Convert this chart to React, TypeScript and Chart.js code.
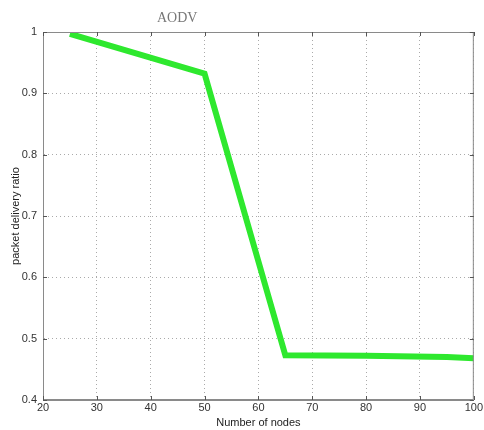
import React, { useEffect, useRef } from "react";
import { Chart, registerables } from "chart.js";

Chart.register(...registerables);

const nodes = [25, 50, 65, 80, 95, 100];
const pdr = [0.997, 0.932, 0.473, 0.472, 0.47, 0.468];
const xTicks = [20, 30, 40, 50, 60, 70, 80, 90, 100];
const yTicks = [0.4, 0.5, 0.6, 0.7, 0.8, 0.9, 1];

const boxPlugin = {
  id: "box",
  afterDraw(chart: any) {
    const { ctx, chartArea } = chart;
    ctx.save();
    ctx.strokeStyle = "#8a8a8a";
    ctx.lineWidth = 1;
    ctx.strokeRect(chartArea.left + 0.5, chartArea.top + 0.5, chartArea.right - chartArea.left - 1, chartArea.bottom - chartArea.top - 1);
    ctx.strokeStyle = "#555";
    const xs = chart.scales.x;
    const ys = chart.scales.y;
    xTicks.forEach((v) => {
      const px = Math.round(xs.getPixelForValue(v)) + 0.5;
      ctx.beginPath();
      ctx.moveTo(px, chartArea.bottom);
      ctx.lineTo(px, chartArea.bottom - 4);
      ctx.moveTo(px, chartArea.top);
      ctx.lineTo(px, chartArea.top + 4);
      ctx.stroke();
    });
    yTicks.forEach((v) => {
      const py = Math.round(ys.getPixelForValue(v)) + 0.5;
      ctx.beginPath();
      ctx.moveTo(chartArea.left, py);
      ctx.lineTo(chartArea.left + 4, py);
      ctx.moveTo(chartArea.right, py);
      ctx.lineTo(chartArea.right - 4, py);
      ctx.stroke();
    });
    ctx.restore();
  },
};

export default function App() {
  const ref = useRef<HTMLCanvasElement>(null);
  useEffect(() => {
    const chart = new Chart(ref.current!, {
      type: "line",
      data: {
        datasets: [
          {
            data: nodes.map((x, i) => ({ x, y: pdr[i] })),
            borderColor: "#2ee82e",
            borderWidth: 6,
            pointRadius: 0,
            tension: 0,
            borderJoinStyle: "miter",
          },
        ],
      },
      options: {
        responsive: false,
        animation: false,
        layout: { padding: { top: 32, right: 7, left: 0, bottom: 0 } },
        plugins: { legend: { display: false }, tooltip: { enabled: false } },
        scales: {
          x: {
            type: "linear",
            min: 20,
            max: 100,
            afterBuildTicks: (s: any) => {
              s.ticks = xTicks.map((v) => ({ value: v }));
            },
            afterFit: (s: any) => {
              s.height = 30;
            },
            ticks: {
              color: "#333",
              font: { family: "Liberation Sans", size: 11 },
              padding: 1,
              maxRotation: 0,
            },
            grid: { color: "#aaa", drawTicks: false },
            border: { color: "#8a8a8a", dash: [1, 3] },
            title: {
              display: true,
              text: "Number of nodes",
              color: "#222",
              font: { family: "Liberation Sans", size: 11 },
              padding: { top: 0, bottom: 0 },
            },
          },
          y: {
            type: "linear",
            min: 0.4,
            max: 1,
            afterBuildTicks: (s: any) => {
              s.ticks = yTicks.map((v) => ({ value: v }));
            },
            afterFit: (s: any) => {
              s.width = 43;
            },
            ticks: {
              color: "#333",
              font: { family: "Liberation Sans", size: 11 },
              padding: 6,
              callback: (v: any) => String(+Number(v).toFixed(1)),
            },
            grid: { color: "#aaa", drawTicks: false },
            border: { color: "#8a8a8a", dash: [1, 3] },
            title: {
              display: true,
              text: "packet delivery ratio",
              color: "#222",
              font: { family: "Liberation Sans", size: 11 },
              padding: { top: 9, bottom: 0 },
            },
          },
        },
      },
      plugins: [boxPlugin],
    });
    return () => chart.destroy();
  }, []);
  return (
    <div style={{ position: "absolute", left: 0, top: 0, width: 484, height: 430, background: "#fff" }}>
      <div
        style={{
          position: "absolute",
          left: 157,
          top: 10,
          fontFamily: "Liberation Serif",
          fontSize: 14,
          color: "#777",
        }}
      >
        AODV
      </div>
      <canvas ref={ref} width={484} height={430} />
    </div>
  );
}
